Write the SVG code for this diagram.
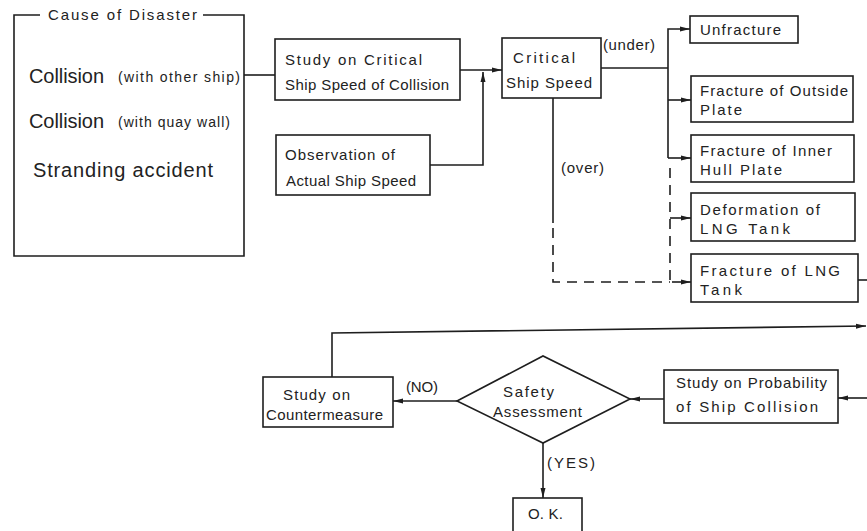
<svg xmlns="http://www.w3.org/2000/svg" width="867" height="531" viewBox="0 0 867 531">
<defs>
<style>
.box{fill:none;stroke:#1e1e1e;stroke-width:1.6}
.ln{fill:none;stroke:#1e1e1e;stroke-width:1.6}
.ds{fill:none;stroke:#1e1e1e;stroke-width:1.6;stroke-dasharray:10,7}
text{font-family:"Liberation Sans",Arial,sans-serif;fill:#222;font-size:15px}
.big{font-size:20px}
.sm{font-size:14px}
</style>
<marker id="ah" viewBox="0 0 10 6" refX="10" refY="3" markerWidth="10" markerHeight="6" markerUnits="userSpaceOnUse" orient="auto">
<path d="M0,0.5 L10,3 L0,5.5 Z" fill="#1e1e1e"/>
</marker>
</defs>
<rect width="867" height="531" fill="#ffffff"/>

<g id="cause">
<path class="box" d="M40,15 H14 V256 H244 V15 H203"/>
<text x="48" y="20" textLength="149" lengthAdjust="spacing">Cause of Disaster</text>
<text class="big" x="29" y="83" textLength="75" lengthAdjust="spacing">Collision</text>
<text class="sm" x="118" y="82" textLength="122" lengthAdjust="spacing">(with other ship)</text>
<text class="big" x="29" y="128" textLength="75" lengthAdjust="spacing">Collision</text>
<text class="sm" x="118" y="127" textLength="112" lengthAdjust="spacing">(with quay wall)</text>
<text class="big" x="33" y="177" textLength="180" lengthAdjust="spacing">Stranding accident</text>
</g>

<g id="study-critical">
<rect class="box" x="275" y="39" width="185" height="61"/>
<text x="285" y="65" textLength="137" lengthAdjust="spacing">Study on Critical</text>
<text x="285" y="90" textLength="164" lengthAdjust="spacing">Ship Speed of Collision</text>
</g>

<g id="observation">
<rect class="box" x="276" y="135" width="154" height="60"/>
<text x="285" y="160" textLength="110" lengthAdjust="spacing">Observation of</text>
<text x="286" y="186" textLength="130" lengthAdjust="spacing">Actual Ship Speed</text>
</g>

<g id="critical-speed">
<rect class="box" x="502" y="38" width="99" height="60"/>
<text x="513" y="63" textLength="62" lengthAdjust="spacing">Critical</text>
<text x="506" y="88" textLength="86" lengthAdjust="spacing">Ship Speed</text>
</g>

<g id="unfracture">
<rect class="box" x="690" y="16" width="108" height="27"/>
<text x="700" y="35" textLength="81" lengthAdjust="spacing">Unfracture</text>
</g>

<g id="outside-plate">
<rect class="box" x="691" y="76" width="162" height="46"/>
<text x="700" y="96" textLength="148" lengthAdjust="spacing">Fracture of Outside</text>
<text x="700" y="115" textLength="42" lengthAdjust="spacing">Plate</text>
</g>

<g id="inner-hull">
<rect class="box" x="691" y="135" width="163" height="47"/>
<text x="700" y="156" textLength="132" lengthAdjust="spacing">Fracture of Inner</text>
<text x="700" y="175" textLength="82" lengthAdjust="spacing">Hull Plate</text>
</g>

<g id="deformation">
<rect class="box" x="691" y="193" width="164" height="48"/>
<text x="700" y="215" textLength="120" lengthAdjust="spacing">Deformation of</text>
<text x="700" y="234" textLength="90" lengthAdjust="spacing">LNG Tank</text>
</g>

<g id="lng-fracture">
<rect class="box" x="691" y="254" width="167" height="48"/>
<text x="700" y="276" textLength="140" lengthAdjust="spacing">Fracture of LNG</text>
<text x="700" y="295" textLength="42" lengthAdjust="spacing">Tank</text>
</g>

<g id="countermeasure">
<rect class="box" x="263" y="377" width="130" height="50"/>
<text x="283" y="400" textLength="67" lengthAdjust="spacing">Study on</text>
<text x="266" y="420" textLength="117" lengthAdjust="spacing">Countermeasure</text>
</g>

<g id="safety">
<path class="box" d="M457,401 L543,356 L630,399 L543,443 Z"/>
<text x="503" y="397" textLength="51" lengthAdjust="spacing">Safety</text>
<text x="493" y="417" textLength="89" lengthAdjust="spacing">Assessment</text>
</g>

<g id="ok">
<rect class="box" x="513" y="498" width="69" height="40"/>
<text x="528" y="519" textLength="35" lengthAdjust="spacing">O. K.</text>
</g>

<g id="probability">
<rect class="box" x="664" y="370" width="174" height="53"/>
<text x="676" y="388" textLength="151" lengthAdjust="spacing">Study on Probability</text>
<text x="676" y="412" textLength="142" lengthAdjust="spacing">of Ship Collision</text>
</g>

<g id="connectors">
<path class="ln" d="M244,75 H275"/>
<path class="ln" d="M460,70 H502" marker-end="url(#ah)"/>
<path class="ln" d="M430,165 H483 V72" marker-end="url(#ah)"/>
<path class="ln" d="M601,68 H668"/>
<path class="ln" d="M668,158 V29 H690" marker-end="url(#ah)"/>
<path class="ln" d="M668,100 H691" marker-end="url(#ah)"/>
<path class="ln" d="M668,158 H691" marker-end="url(#ah)"/>
<path class="ln" d="M553,98 V223"/>
<path class="ds" d="M553,228 V282 H670"/>
<path class="ds" d="M670,168 V282"/>
<path class="ln" d="M670,218 H676"/>
<path class="ln" d="M676,218 H691" marker-end="url(#ah)"/>
<path class="ln" d="M672,282 H691" marker-end="url(#ah)"/>
<path class="ln" d="M858,280 H867"/>
<path class="ln" d="M332,377 V333 L866,326" marker-end="url(#ah)"/>
<path class="ln" d="M867,398 H838" marker-end="url(#ah)"/>
<path class="ln" d="M664,399 H630" marker-end="url(#ah)"/>
<path class="ln" d="M457,401 H393" marker-end="url(#ah)"/>
<path class="ln" d="M543,443 V498" marker-end="url(#ah)"/>
<text x="603" y="50" textLength="52" lengthAdjust="spacing">(under)</text>
<text x="561" y="173" textLength="43" lengthAdjust="spacing">(over)</text>
<text x="406" y="392" textLength="32" lengthAdjust="spacing">(NO)</text>
<text x="547" y="468" textLength="48" lengthAdjust="spacing">(YES)</text>
</g>
</svg>
